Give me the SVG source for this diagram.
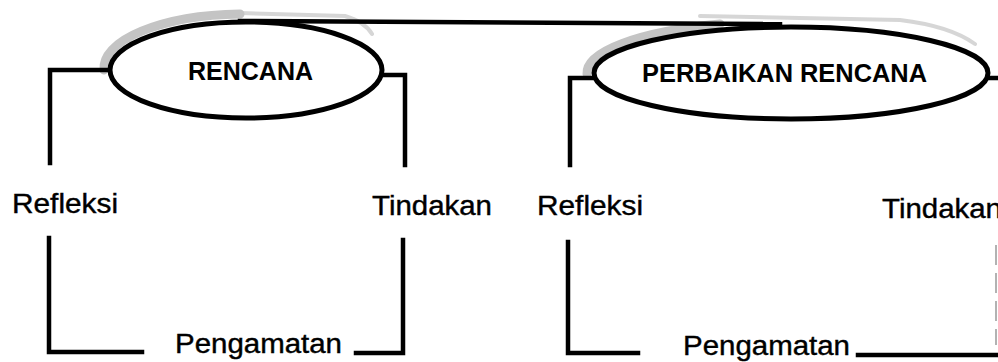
<svg xmlns="http://www.w3.org/2000/svg" width="998" height="362" viewBox="0 0 998 362">
<style>
.ln{stroke:#000;stroke-width:4.5;fill:none;stroke-linecap:square}
.ell{fill:#fff;stroke:#000;stroke-width:5}
.shade{fill:none;stroke:#c4c4c4;stroke-linecap:round}
.lbl{font-family:"Liberation Sans",Arial,sans-serif;font-size:27px;fill:#000;stroke:#000;stroke-width:0.4}
.ttl{font-family:"Liberation Sans",Arial,sans-serif;font-size:26px;font-weight:bold;fill:#000}
</style>
<rect width="998" height="362" fill="#fff"/>
<g id="shading">
<path class="shade" stroke-width="9" d="M104,70 A141,54 0 0 1 240,14"/>
<path class="shade" stroke-width="4" opacity="0.7" d="M240,13 L345,16 Q365,22 372,34"/>
<path class="shade" stroke-width="9" d="M587,74 A200,52 0 0 1 720,24"/>
<path class="shade" stroke-width="4" opacity="0.7" d="M700,16 L900,20 Q950,26 975,44"/>
</g>
<g id="connectors">
<path class="ln" d="M240,21 L780,24"/>
<path class="ln" d="M110,70 L50,70 L50,163"/>
<path class="ln" d="M381,75 L405,75 L405,165"/>
<path class="ln" d="M49,238 L49,352 L142,352"/>
<path class="ln" d="M403,240 L403,353 L356,353"/>
<path class="ln" d="M594,78 L570,78 L570,165"/>
<path class="ln" d="M988,78 L998,78"/>
<path class="ln" d="M568,242 L568,353 L638,353"/>
<path class="ln" d="M858,355 L998,355"/>
<path d="M996,245 L996,345" stroke="#999" stroke-width="1.5" stroke-dasharray="20 8" fill="none"/>
</g>
<g id="node-rencana">
<ellipse class="ell" cx="246" cy="70" rx="136" ry="48"/>
<text class="ttl" x="188" y="80" textLength="125" lengthAdjust="spacingAndGlyphs">RENCANA</text>
</g>
<g id="node-perbaikan-rencana">
<ellipse class="ell" cx="791" cy="73" rx="197" ry="46"/>
<text class="ttl" x="642" y="82" textLength="285" lengthAdjust="spacingAndGlyphs">PERBAIKAN RENCANA</text>
</g>
<g id="node-refleksi-1">
<text class="lbl" x="12" y="213" textLength="106" lengthAdjust="spacingAndGlyphs">Refleksi</text>
</g>
<g id="node-tindakan-1">
<text class="lbl" x="372" y="215" textLength="120" lengthAdjust="spacingAndGlyphs">Tindakan</text>
</g>
<g id="node-pengamatan-1">
<text class="lbl" x="175" y="353" textLength="167" lengthAdjust="spacingAndGlyphs">Pengamatan</text>
</g>
<g id="node-refleksi-2">
<text class="lbl" x="537" y="215" textLength="106" lengthAdjust="spacingAndGlyphs">Refleksi</text>
</g>
<g id="node-tindakan-2">
<text class="lbl" x="882" y="218" textLength="120" lengthAdjust="spacingAndGlyphs">Tindakan</text>
</g>
<g id="node-pengamatan-2">
<text class="lbl" x="683" y="355" textLength="167" lengthAdjust="spacingAndGlyphs">Pengamatan</text>
</g>
</svg>
